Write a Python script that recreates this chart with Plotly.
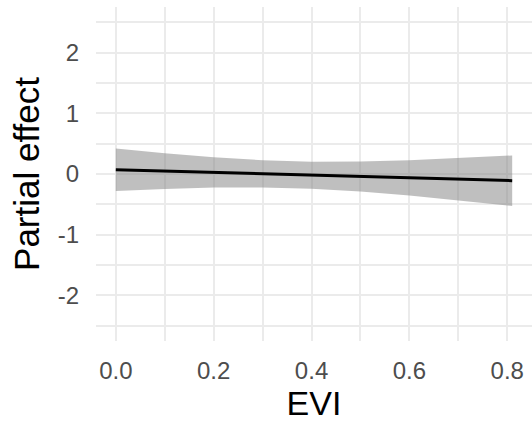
import plotly.graph_objects as go

evi = [0.0, 0.1, 0.2, 0.3, 0.4, 0.5, 0.6, 0.7, 0.81]
effect = [0.07, 0.048, 0.026, 0.003, -0.019, -0.041, -0.063, -0.085, -0.11]
upper = [0.42, 0.34, 0.275, 0.227, 0.203, 0.205, 0.227, 0.26, 0.305]
lower = [-0.28, -0.246, -0.223, -0.221, -0.241, -0.287, -0.353, -0.43, -0.525]

x_ticks = [0.0, 0.2, 0.4, 0.6, 0.8]
x_ticklabels = ["0.0", "0.2", "0.4", "0.6", "0.8"]
y_ticks = [-2, -1, 0, 1, 2]
y_ticklabels = ["-2", "-1", "0", "1", "2"]

fig = go.Figure()
fig.add_trace(go.Scatter(
    x=evi + evi[::-1], y=upper + lower[::-1],
    fill="toself", fillcolor="rgba(128,128,128,0.5)",
    line=dict(width=0), mode="lines", hoverinfo="skip", showlegend=False))
fig.add_trace(go.Scatter(
    x=evi, y=effect, mode="lines",
    line=dict(color="black", width=3), showlegend=False))

font_family = "Liberation Sans, Arial, sans-serif"
grid = "#EBEBEB"
fig.update_layout(
    width=532, height=426,
    margin=dict(l=96, r=0, t=7, b=85),
    paper_bgcolor="white", plot_bgcolor="white",
    font=dict(family=font_family),
)
fig.update_xaxes(
    automargin=False,
    range=[-0.0405, 0.8505],
    tickvals=x_ticks, ticktext=x_ticklabels,
    tickfont=dict(size=24, color="#4D4D4D", family=font_family),
    ticks="outside", ticklen=8, tickcolor="rgba(0,0,0,0)",
    showgrid=True, gridcolor=grid, gridwidth=2,
    minor=dict(dtick=0.1, tick0=0, showgrid=True, gridcolor=grid, gridwidth=1.6),
    zeroline=False, showline=False,
    title=dict(text="EVI", font=dict(size=34, color="black", family=font_family), standoff=7),
)
fig.update_yaxes(
    automargin=False,
    range=[-2.75, 2.75],
    tickvals=y_ticks, ticktext=y_ticklabels,
    tickfont=dict(size=24, color="#4D4D4D", family=font_family),
    ticks="outside", ticklen=11, tickcolor="rgba(0,0,0,0)",
    showgrid=True, gridcolor=grid, gridwidth=2,
    minor=dict(dtick=0.5, tick0=0, showgrid=True, gridcolor=grid, gridwidth=1.6),
    zeroline=False, showline=False,
    title=dict(text="Partial effect", font=dict(size=35, color="black", family=font_family), standoff=7),
)

fig.write_html("out.html", config={"displayModeBar": False},
               post_script="document.body.style.margin='0';document.body.style.overflow='hidden';")
